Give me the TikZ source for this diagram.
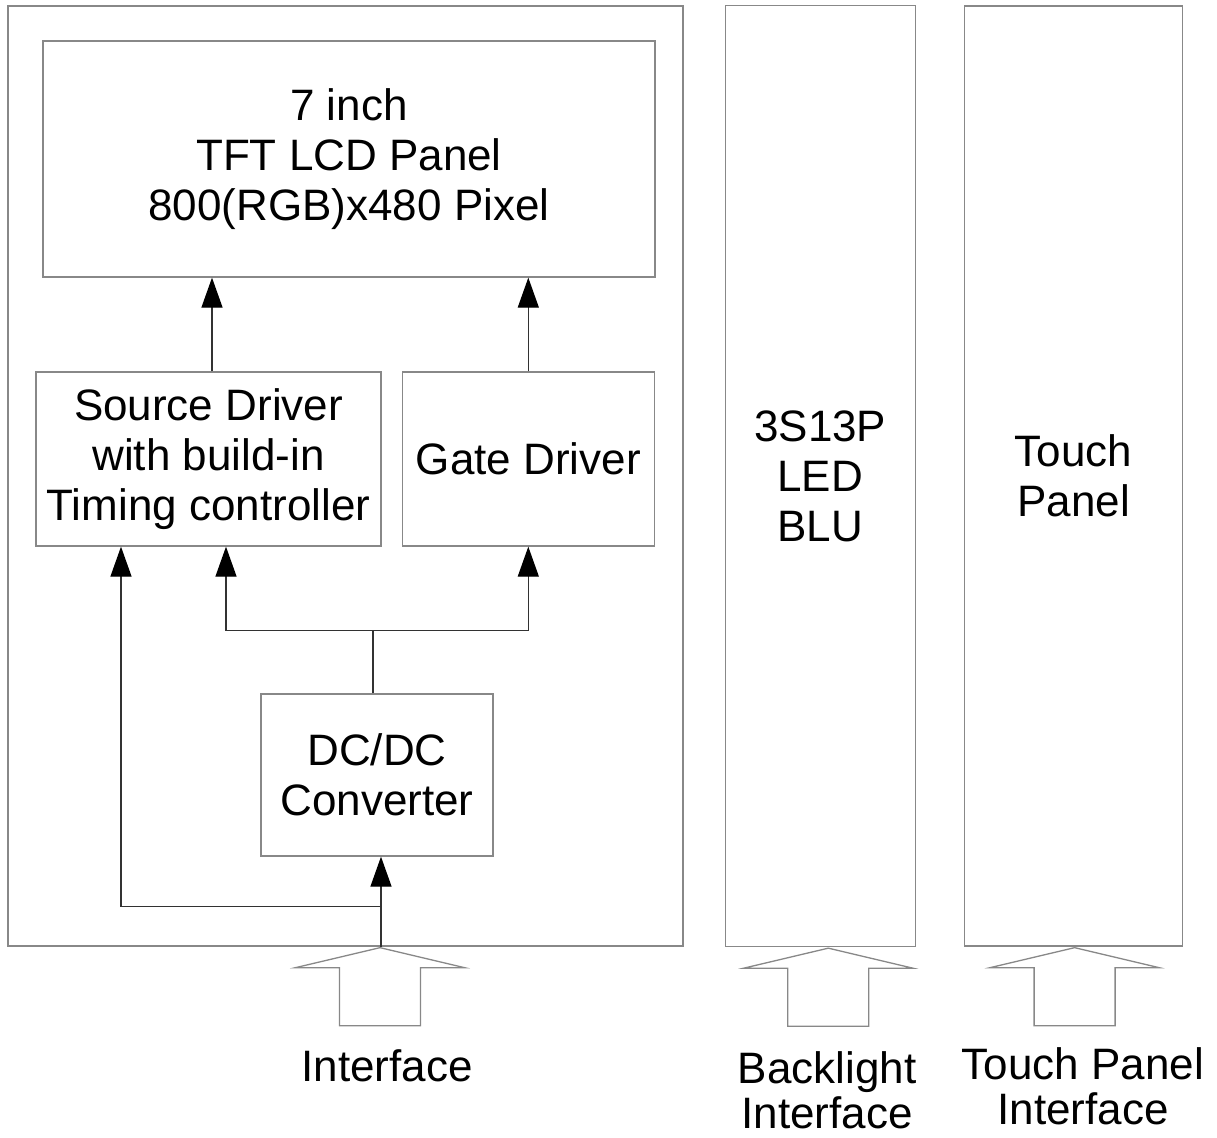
\documentclass[tikz,border=0pt]{standalone}
\usepackage{fontspec}
\setmainfont{Liberation Sans}
\usepackage{tikz}
\usetikzlibrary{arrows.meta,positioning}
\definecolor{colorBx}{RGB}{136,136,136}
\definecolor{colorLn}{RGB}{50,50,50}
\tikzstyle{blk}=[draw=colorBx, line width=1.3pt, inner sep=0pt, align=center]
\tikzstyle{wire}=[draw=colorLn, line width=1.3pt]
\tikzstyle{feed}=[wire, -{Triangle[length=30pt,width=21pt,color=black]}]
\tikzstyle{hollow}=[draw=colorBx, line width=1.3pt, line join=miter]
\tikzstyle{lab}=[align=center, font=\fontsize{44}{45}\selectfont]
\newcommand{\inarrow}[1]{\draw [hollow] (#1) -- ++(84.5,20) -- ++(-44,0) -- ++(0,58) -- ++(-81,0) -- ++(0,-58) -- ++(-44,0) -- cycle;}

\begin{document}
\begin{tikzpicture}[x=1pt,y=-1pt,font=\fontsize{44}{50}\selectfont]
\useasboundingbox (0,0) rectangle (1217,1137);

% module
\node (module) [blk, minimum width=675pt, minimum height=940pt] at (345.5,476) {};
\node (panel) [blk, minimum width=612pt, minimum height=236pt] at (349,159) {7 inch\\TFT LCD Panel\\800(RGB)x480 Pixel};
\node (source) [blk, minimum width=345pt, minimum height=174pt] at (208.5,459) {Source Driver\\with build-in\\Timing controller};
\node (gate) [blk, minimum width=252pt, minimum height=174pt, right=20pt of source] {Gate Driver};
\node (dcdc) [blk, minimum width=232pt, minimum height=162pt] at (377,775) {DC/DC\\Converter};

% backlight and touch
\node (blu) [blk, minimum width=190pt, minimum height=941pt, right=41pt of module] {3S13P\\LED\\BLU};
\node (touch) [blk, minimum width=218pt, minimum height=940pt, right=48pt of blu] {Touch\\Panel};

% connectors
\draw [feed] ([xshift=3.5pt]source.north) -- ([xshift=3.5pt]source.north |- panel.south);
\draw [feed] (gate.north) -- (gate.north |- panel.south);
\coordinate (split) at ([xshift=-4pt,yshift=63pt]dcdc.north);
\draw [wire] ([xshift=-4pt]dcdc.north) -- (split);
\draw [feed] (split) -| ([xshift=17.5pt]source.south);
\draw [feed] (split) -| (gate.south);
\coordinate (inlet) at ([xshift=35.5pt]module.south);
\coordinate (tap) at ([yshift=40pt]inlet);
\draw [feed] (inlet) -- ([xshift=4pt]dcdc.south);
\draw [feed] (tap) -| ([xshift=-87.5pt]source.south);

% interface arrows
\coordinate (tipIf) at ([xshift=-1pt,yshift=-1pt]inlet);
\coordinate (tipBl) at ([xshift=8pt,yshift=-1pt]blu.south);
\coordinate (tipTp) at ([xshift=1pt,yshift=-1pt]touch.south);
\inarrow{tipIf}
\inarrow{tipBl}
\inarrow{tipTp}

\node (labIf) [lab] at (387,1066) {Interface};
\node (labBl) [lab] at (827,1090) {Backlight\\Interface};
\node (labTp) [lab] at (1083,1086) {Touch Panel\\Interface};

\end{tikzpicture}
\end{document}
